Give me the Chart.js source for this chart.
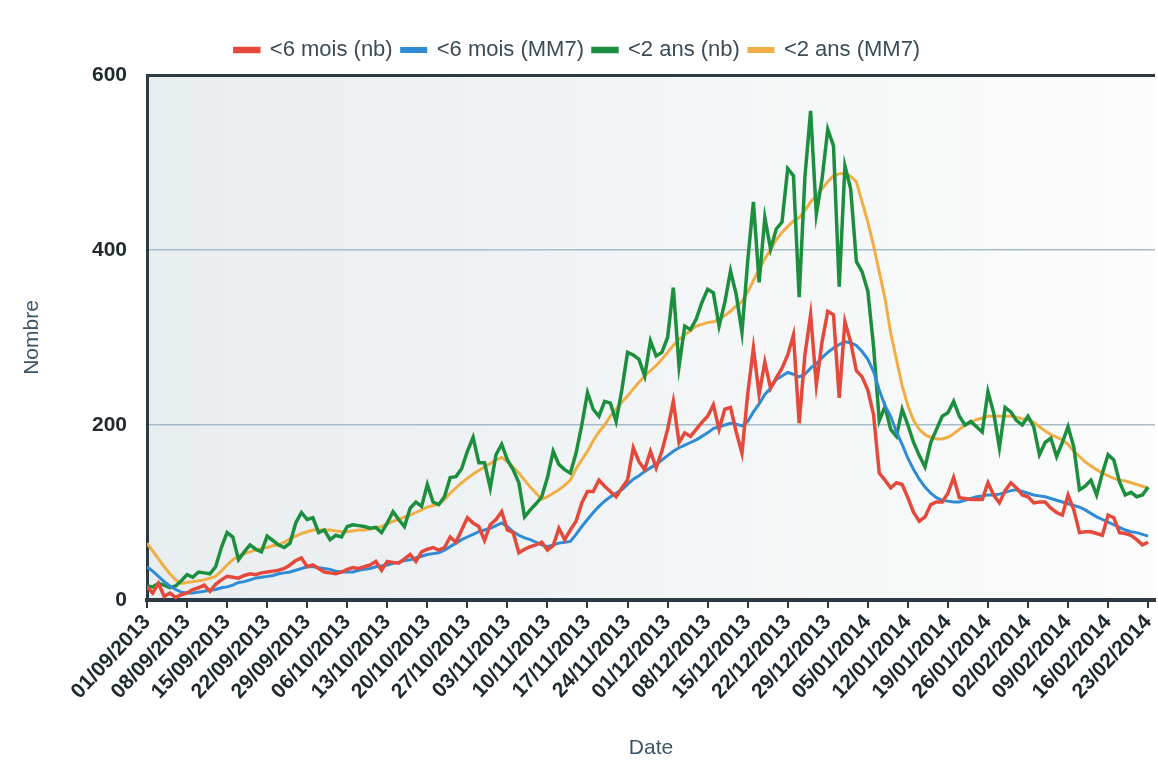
<!DOCTYPE html>
<html>
<head>
<meta charset="utf-8">
<title>Nombre par jour</title>
<script src="https://cdn.jsdelivr.net/npm/chart.js@4.4.1/dist/chart.umd.min.js"></script>
<style>
  html, body { margin: 0; padding: 0; background: #fff; }
  #wrap { width: 1158px; height: 765px; }
</style>
</head>
<body>
<div id="wrap"><canvas id="chart" width="1158" height="765"></canvas></div>
<script>
// one label every 7 days, day 0 = 01/09/2013
const tickLabels = ['01/09/2013', '08/09/2013', '15/09/2013', '22/09/2013', '29/09/2013', '06/10/2013',
    '13/10/2013', '20/10/2013', '27/10/2013', '03/11/2013', '10/11/2013', '17/11/2013', '24/11/2013',
    '01/12/2013', '08/12/2013', '15/12/2013', '22/12/2013', '29/12/2013', '05/01/2014', '12/01/2014',
    '19/01/2014', '26/01/2014', '02/02/2014', '09/02/2014', '16/02/2014', '23/02/2014'];

const seriesNames = ['<6 mois (nb)', '<6 mois (MM7)', '<2 ans (nb)', '<2 ans (MM7)'];

// daily values, 01/09/2013 -> 23/02/2014
const moins6Nb = [
    15, 8, 19, 4, 8, 3, 6, 8, 12, 14,
    17, 10, 18, 23, 27, 26, 25, 28, 30, 29,
    31, 32, 33, 34, 36, 40, 45, 48, 38, 40,
    36, 32, 31, 30, 32, 35, 37, 36, 38, 40,
    44, 34, 44, 43, 42, 47, 52, 44, 55, 58,
    60, 57, 60, 72, 66, 80, 94, 88, 84, 68,
    86, 92, 101, 80, 77, 54, 58, 61, 63, 66,
    57, 62, 82, 69, 80, 90, 111, 124, 124, 137,
    130, 124, 118, 128, 137, 174, 158, 149, 170, 151,
    170, 195, 227, 180, 191, 187, 195, 203, 210, 223,
    195, 218, 220, 192, 168, 235, 288, 235, 272, 242,
    254, 265, 280, 303, 202, 280, 326, 246, 295, 330,
    326, 231, 318, 295, 262, 255, 240, 212, 145, 137,
    128, 134, 132, 117, 100, 90, 95, 109, 112, 112,
    122, 140, 117, 116, 115, 115, 115, 134, 120, 111,
    125, 134, 128, 120, 118, 111, 112, 112, 105, 100,
    97, 120, 103, 77, 78, 78, 76, 74, 97, 94,
    77, 76, 74, 69, 63, 66];

const moins6Mm7 = [
    38, 33, 27, 21, 16, 12, 9, 8, 8, 9,
    10, 11, 12, 14, 15, 17, 20, 21, 23, 25,
    26, 27, 28, 30, 31, 32, 34, 36, 38, 38,
    37, 36, 35, 33, 32, 32, 32, 34, 35, 36,
    38, 39, 40, 42, 43, 45, 46, 48, 50, 52,
    53, 54, 57, 61, 65, 69, 72, 75, 78, 80,
    82, 85, 88, 84, 78, 74, 71, 69, 66, 63,
    61, 63, 65, 66, 67, 75, 84, 92, 100, 107,
    113, 118, 122, 126, 132, 138, 142, 147, 151, 155,
    160, 165, 170, 174, 177, 180, 183, 187, 191, 196,
    198, 200, 202, 201, 199, 204, 215, 224, 235, 242,
    252, 256, 260, 258, 255, 258, 265, 270, 277, 283,
    288, 292, 295, 294, 291, 284, 275, 261, 240, 222,
    210, 192, 178, 162, 149, 138, 129, 122, 117, 114,
    113, 112, 112, 114, 116, 118, 119, 120, 120, 121,
    123, 125, 126, 124, 122, 120, 119, 118, 116, 114,
    112, 110, 108, 106, 103, 99, 95, 92, 89, 86,
    83, 80, 78, 77, 75, 73];

const moins2Nb = [
    16, 15, 19, 17, 14, 16, 22, 29, 26, 32,
    31, 30, 38, 60, 77, 72, 46, 55, 63, 58,
    55, 73, 68, 63, 60, 65, 88, 100, 92, 94,
    77, 80, 69, 74, 72, 84, 86, 85, 84, 82,
    83, 77, 88, 101, 92, 84, 105, 112, 107, 132,
    112, 109, 118, 140, 141, 150, 170, 186, 157, 157,
    128, 166, 178, 160, 149, 134, 95, 103, 110, 118,
    140, 170, 155, 149, 145, 168, 200, 237, 218, 210,
    227, 225, 204, 240, 283, 280, 275, 256, 296, 279,
    283, 300, 357, 267, 313, 309, 321, 340, 355, 351,
    313, 340, 376, 349, 306, 387, 455, 363, 437, 401,
    424, 432, 493, 485, 346, 483, 559, 441, 481, 538,
    519, 358, 496, 470, 387, 375, 353, 290, 205, 221,
    195, 187, 218, 200, 180, 165, 152, 180, 195, 210,
    214, 227, 210, 200, 204, 198, 192, 238, 214, 174,
    220, 215, 205, 200, 210, 198, 166, 180, 185, 164,
    180, 198, 175, 126, 130, 137, 120, 145, 166, 160,
    135, 120, 123, 118, 120, 129];

const moins2Mm7 = [
    65, 56, 47, 38, 30, 23, 19, 20, 21, 22,
    23, 25, 27, 33, 40, 46, 50, 53, 55, 57,
    59, 60, 62, 63, 66, 70, 73, 76, 78, 80,
    80, 80, 80, 79, 78, 78, 79, 80, 80, 81,
    82, 84, 87, 90, 92, 95, 97, 100, 103, 106,
    108, 109, 115, 122, 128, 134, 139, 144, 148, 152,
    156, 160, 163, 158, 152, 145, 137, 129, 122, 115,
    118, 122, 126, 131, 137, 150, 160, 170, 182, 192,
    200, 210, 218, 226, 233, 241, 249, 256, 262, 268,
    275, 283, 291, 298, 303, 308, 313, 315, 317, 318,
    321, 325, 330, 336, 341, 352, 365, 378, 390, 400,
    412, 420, 427, 433, 437, 445, 455, 462, 470, 478,
    485, 487, 488, 484, 478, 455, 432, 405, 375, 345,
    305, 275, 245, 222, 205, 195, 189, 186, 184, 184,
    186, 190, 195, 200, 203, 206, 208, 210, 210, 210,
    210, 210, 209, 207, 206, 203, 198, 193, 189, 186,
    183, 178, 170, 164, 158, 153, 149, 145, 142, 139,
    137, 136, 134, 132, 130, 128];

const yTicks = [0, 200, 400, 600];

const DARK = '#2b3a43';
const COLORS = ['#e4493b', '#2f8bd6', '#1c8f3e', '#f0ae45'];

Chart.defaults.font.family = "'Liberation Sans', Arial, sans-serif";

function toPoints(arr) {
    return arr.map((v, i) => ({ x: i, y: v }));
}

function makeDataset(label, values, color, width) {
    return {
        label: label,
        data: toPoints(values),
        borderColor: color,
        backgroundColor: color,
        borderWidth: width,
        pointRadius: 0,
        tension: 0
    };
}

// light grey gradient behind the plot
const plotBg = {
    id: 'plotBg',
    beforeDraw(chart) {
        const { ctx, chartArea: a } = chart;
        const g = ctx.createLinearGradient(a.left, 0, a.right, 0);
        g.addColorStop(0, '#e8edf0');
        g.addColorStop(0.6, '#f4f6f7');
        g.addColorStop(1, '#fcfcfc');
        ctx.save();
        ctx.fillStyle = g;
        ctx.fillRect(a.left, a.top, a.right - a.left, a.bottom - a.top);
        ctx.restore();
    }
};

// keep the legend band a fixed height so the plot starts where it should
const legendBand = {
    id: 'legendBand',
    beforeInit(chart) {
        const fit = chart.legend.fit;
        chart.legend.fit = function () {
            fit.call(this);
            this.height = 45;
        };
    }
};

const chart = new Chart(document.getElementById('chart'), {
    type: 'line',
    data: {
        datasets: [
            makeDataset(seriesNames[0], moins6Nb, COLORS[0], 3.5),
            makeDataset(seriesNames[1], moins6Mm7, COLORS[1], 3),
            makeDataset(seriesNames[2], moins2Nb, COLORS[2], 3.5),
            makeDataset(seriesNames[3], moins2Mm7, COLORS[3], 3)
        ]
    },
    options: {
        responsive: false,
        animation: false,
        layout: { padding: { top: 30, right: 3, left: 0, bottom: 0 } },
        plugins: {
            legend: {
                position: 'top',
                labels: {
                    boxWidth: 24,
                    boxHeight: 3,
                    padding: 9,
                    color: '#3b4c58',
                    font: { size: 22 }
                }
            },
            tooltip: { enabled: false }
        },
        scales: {
            x: {
                type: 'linear',
                min: 0,
                max: 176.2,
                afterBuildTicks(s) {
                    s.ticks = tickLabels.map((_, k) => ({ value: k * 7 }));
                },
                afterFit(s) {
                    s.height = 165;
                    s.paddingLeft = 0;
                    s.paddingRight = 0;
                },
                ticks: {
                    autoSkip: false,
                    minRotation: 47,
                    maxRotation: 47,
                    padding: 2,
                    color: '#1f2a30',
                    font: { size: 21, weight: 'bold' },
                    callback: (v) => tickLabels[v / 7]
                },
                grid: {
                    drawOnChartArea: false,
                    drawTicks: true,
                    tickLength: 8,
                    color: DARK,
                    lineWidth: 2
                },
                border: { display: true, color: DARK, width: 4 },
                title: {
                    display: true,
                    text: 'Date',
                    color: '#3b5566',
                    font: { size: 21 },
                    padding: { top: 7, bottom: 4 }
                }
            },
            y: {
                min: 0,
                max: 600,
                afterBuildTicks(s) {
                    s.ticks = yTicks.map(v => ({ value: v }));
                },
                afterFit(s) {
                    s.width = 147;
                    s.paddingTop = 0;
                    s.paddingBottom = 0;
                },
                ticks: {
                    padding: 20,
                    color: '#1f2a30',
                    font: { size: 21, weight: 'bold' }
                },
                grid: {
                    drawTicks: false,
                    color: (c) => c.tick.value === 600 ? DARK : (c.tick.value === 0 ? 'rgba(0,0,0,0)' : '#a7bccb'),
                    lineWidth: (c) => c.tick.value === 600 ? 3 : 1.5
                },
                border: { display: true, color: DARK, width: 3 },
                title: {
                    display: true,
                    text: 'Nombre',
                    color: '#3b5566',
                    font: { size: 21 },
                    padding: { top: 20, bottom: 4 }
                }
            }
        }
    },
    plugins: [plotBg, legendBand]
});
</script>
</body>
</html>
